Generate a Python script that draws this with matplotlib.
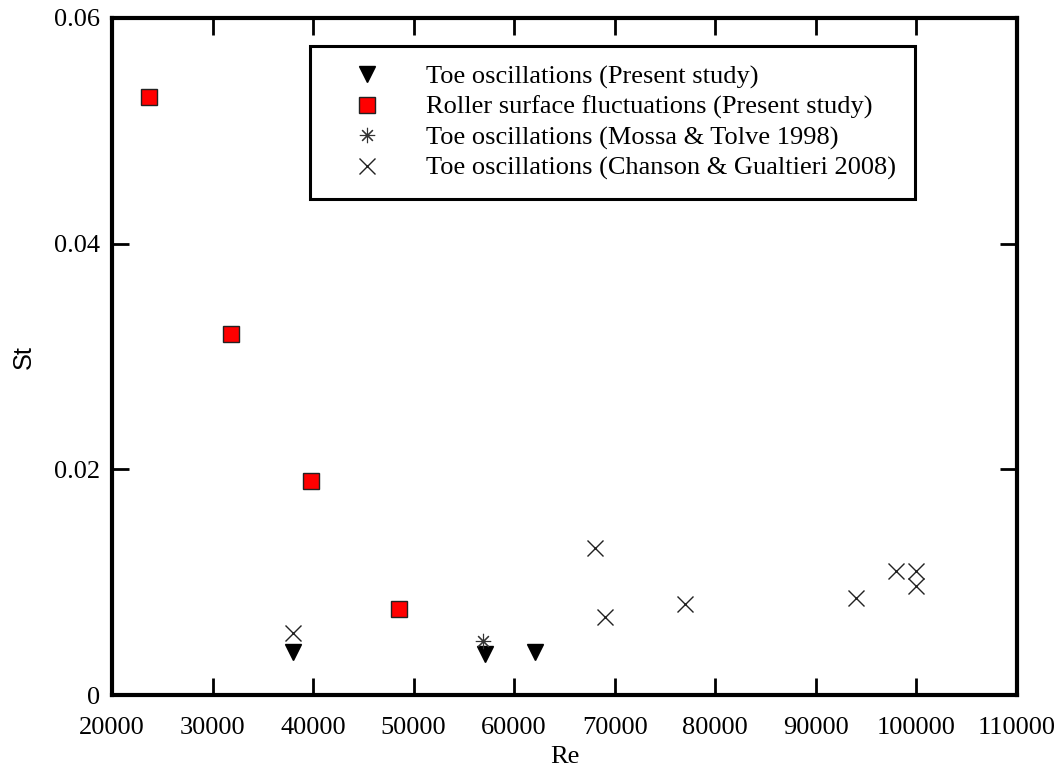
import numpy as np
import matplotlib
matplotlib.use("Agg")
import matplotlib.pyplot as plt

# Strouhal number vs Reynolds number for hydraulic jump toe / roller measurements
re_toe = [38000, 57100, 62100]
st_toe = [0.0038, 0.0036, 0.0038]

re_roller = [23700, 31800, 39800, 48500]
st_roller = [0.053, 0.032, 0.019, 0.0076]

re_mossa = [56900]
st_mossa = [0.0048]

re_chanson = [38000, 68000, 69000, 77000, 94000, 98000, 100000, 100000]
st_chanson = [0.0055, 0.013, 0.0069, 0.0081, 0.0086, 0.011, 0.011, 0.0097]

labels = ["Toe oscillations (Present study)",
          "Roller surface fluctuations (Present study)",
          "Toe oscillations (Mossa & Tolve 1998)",
          "Toe oscillations (Chanson & Gualtieri 2008)"]

xticks = np.arange(20000, 110001, 10000)
yticks = [0, 0.02, 0.04, 0.06]
ytick_labels = ["0", "0.02", "0.04", "0.06"]

plt.rcParams['font.family'] = ['Liberation Serif', 'DejaVu Serif']
fs = 19

fig = plt.figure(figsize=(10.62, 7.69), dpi=100)
ax = fig.add_axes([0.1055, 0.0962, 0.852, 0.8804])

ax.plot(re_toe, st_toe, linestyle='none', marker='v', ms=12, color='black',
        label=labels[0])
ax.plot(re_roller, st_roller, linestyle='none', marker='s', ms=12,
        markerfacecolor='red', markeredgecolor='#222222', markeredgewidth=1,
        label=labels[1])
ax.plot(re_mossa, st_mossa, linestyle='none', marker=(8, 2, 0), ms=11,
        color='#333333', markeredgewidth=0.8, label=labels[2])
ax.plot(re_chanson, st_chanson, linestyle='none', marker='x', ms=12,
        color='#222222', markeredgewidth=1, label=labels[3])

ax.set_xlim(20000, 110000)
ax.set_ylim(0, 0.06)
ax.set_xticks(xticks)
ax.set_xticklabels([str(v) for v in xticks])
ax.set_yticks(yticks)
ax.set_yticklabels(ytick_labels)

ax.tick_params(direction='in', length=12, width=2, top=True, right=True,
               labelsize=fs)
ax.tick_params(axis='x', pad=15.5)
ax.tick_params(axis='y', pad=8.6)
for s in ax.spines.values():
    s.set_linewidth(3)

ax.set_xlabel("Re", fontsize=fs, labelpad=5.5)
ax.set_ylabel("St", fontsize=18.3, family='Liberation Sans', labelpad=13)

leg = ax.legend(loc='upper left', bbox_to_anchor=(0.219, 0.9587),
                borderaxespad=0, numpoints=1, fontsize=fs, fancybox=False,
                framealpha=1, edgecolor='black', borderpad=0.72,
                labelspacing=0.25, handlelength=2.85, handletextpad=0.8)
leg.get_frame().set_linewidth(2.2)

fig.savefig("out.png", dpi=100)
